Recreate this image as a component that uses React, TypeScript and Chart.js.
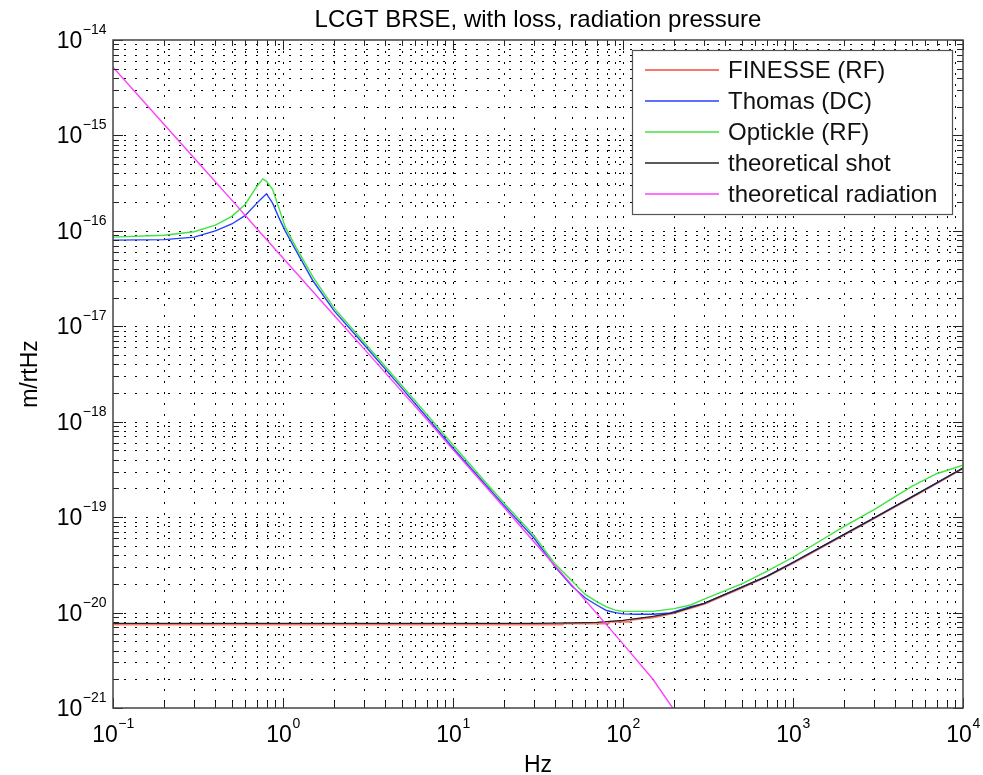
import React, { useEffect, useRef } from 'react';
import { Chart, registerables } from 'chart.js';

Chart.register(...registerables);

const chartTitle = 'LCGT BRSE, with loss, radiation pressure';
const xAxisTitle = 'Hz';
const yAxisTitle = 'm/rtHz';
const xTickExponents = [-1, 0, 1, 2, 3, 4];
const yTickExponents = [-21, -20, -19, -18, -17, -16, -15, -14];
const seriesLabels = ['FINESSE (RF)', 'Thomas (DC)', 'Optickle (RF)', 'theoretical shot', 'theoretical radiation'];
const seriesColors = ['rgb(248,118,106)', 'rgb(36,64,255)', 'rgb(64,228,64)', 'rgb(36,36,36)', 'rgb(255,64,255)'];

const finesseFreq = [0.1, 1, 10, 44, 45, 82, 84, 110, 112, 150, 200, 300, 500, 700, 1000, 2000, 3000, 5000, 7000, 10000];
const finesseVals = [7.5e-21, 7.5e-21, 7.5e-21, 7.5e-21, 7.7e-21, 7.7e-21, 8.0e-21, 8.0e-21, 8.4e-21, 8.9e-21, 9.9e-21, 1.23e-20, 1.82e-20, 2.38e-20, 3.3e-20, 6.5e-20, 9.7e-20, 1.61e-19, 2.26e-19, 3.25e-19];

const thomasFreq = [0.1, 0.2, 0.3, 0.4, 0.5, 0.6, 0.7, 0.75, 0.8, 0.87, 0.95, 1.03, 1.2, 1.5, 2, 3, 5, 7, 10, 15, 20, 30, 40, 50, 60, 70, 80, 90, 100, 120, 150, 190, 250, 300, 500, 700, 1000, 2000, 3000, 5000, 7000, 10000];
const thomasVals = [8.0e-17, 8.1e-17, 8.6e-17, 1.0e-16, 1.18e-16, 1.45e-16, 1.94e-16, 2.2e-16, 2.45e-16, 1.94e-16, 1.35e-16, 1.0e-16, 6.1e-17, 3.0e-17, 1.45e-17, 6.4e-18, 2.25e-18, 1.12e-18, 5.3e-19, 2.35e-19, 1.32e-19, 6.0e-20, 3.0e-20, 1.9e-20, 1.42e-20, 1.2e-20, 1.05e-20, 1.0e-20, 9.7e-21, 9.6e-21, 9.6e-21, 9.9e-21, 1.15e-20, 1.25e-20, 1.85e-20, 2.4e-20, 3.35e-20, 6.6e-20, 9.8e-20, 1.63e-19, 2.28e-19, 3.27e-19];

const optickleFreq = [0.1, 0.2, 0.3, 0.4, 0.5, 0.6, 0.7, 0.76, 0.8, 0.87, 0.95, 1.03, 1.2, 1.5, 2, 3, 5, 7, 10, 15, 20, 30, 40, 50, 60, 70, 80, 90, 100, 150, 200, 250, 300, 500, 700, 1000, 2000, 3000, 5000, 7000, 10000];
const optickleVals = [8.6e-17, 9.0e-17, 9.8e-17, 1.15e-16, 1.42e-16, 1.9e-16, 2.9e-16, 3.5e-16, 3.3e-16, 2.7e-16, 1.7e-16, 1.1e-16, 6.6e-17, 3.3e-17, 1.55e-17, 6.8e-18, 2.4e-18, 1.2e-18, 5.7e-19, 2.5e-19, 1.4e-19, 6.4e-20, 3.2e-20, 2.15e-20, 1.55e-20, 1.3e-20, 1.15e-20, 1.06e-20, 1.03e-20, 1.03e-20, 1.1e-20, 1.2e-20, 1.38e-20, 2.0e-20, 2.7e-20, 3.8e-20, 8.0e-20, 1.2e-19, 2.1e-19, 2.85e-19, 3.5e-19];

const shotFreq = [0.1, 1, 10, 30, 50, 70, 100, 150, 200, 300, 500, 700, 1000, 2000, 3000, 5000, 7000, 10000];
const shotVals = [7.7e-21, 7.7e-21, 7.7e-21, 7.7e-21, 7.8e-21, 7.9e-21, 8.3e-21, 9.1e-21, 1.0e-20, 1.25e-20, 1.85e-20, 2.4e-20, 3.35e-20, 6.6e-20, 9.8e-20, 1.63e-19, 2.28e-19, 3.27e-19];

const radiationFreq = [0.1, 0.2, 0.3, 0.5, 0.7, 1, 2, 3, 5, 7, 10, 20, 30, 50, 70, 100, 150, 200, 300];
const radiationVals = [5.2e-15, 1.3e-15, 5.8e-16, 2.1e-16, 1.06e-16, 5.2e-17, 1.3e-17, 5.8e-18, 2.08e-18, 1.06e-18, 5.1e-19, 1.26e-19, 5.5e-20, 1.95e-20, 9.8e-21, 4.7e-21, 2.0e-21, 9.5e-22, 4.1e-22];

const FONT = '"Liberation Sans", Arial, Helvetica, sans-serif';

function toPoints(xs: number[], ys: number[]) {
  return xs.map((x, i) => ({ x, y: ys[i] }));
}

function drawPow(ctx: CanvasRenderingContext2D, exp: number, x: number, baseline: number, align: 'right' | 'center') {
  const base = '10';
  const expStr = exp < 0 ? '\u2212' + Math.abs(exp) : String(exp);
  ctx.font = `23px ${FONT}`;
  const w1 = ctx.measureText(base).width;
  ctx.font = `14px ${FONT}`;
  const w2 = ctx.measureText(expStr).width;
  const start = align === 'right' ? x - w1 - w2 : x - (w1 + w2) / 2;
  ctx.textAlign = 'left';
  ctx.textBaseline = 'alphabetic';
  ctx.fillStyle = '#000';
  ctx.font = `23px ${FONT}`;
  ctx.fillText(base, start, baseline);
  ctx.font = `14px ${FONT}`;
  ctx.fillText(expStr, start + w1 + 0.5, baseline - 14);
}

const decorPlugin = {
  id: 'decor',
  beforeDatasetsDraw(chart: any) {
    const { ctx, chartArea: a, scales } = chart;
    const xs = scales.x;
    const ys = scales.y;
    ctx.save();
    ctx.beginPath();
    ctx.rect(a.left, a.top, a.right - a.left, a.bottom - a.top);
    ctx.clip();
    ctx.strokeStyle = '#000';
    ctx.lineWidth = 1;
    ctx.setLineDash([2, 9]);
    for (let d = xTickExponents[0]; d < xTickExponents[xTickExponents.length - 1]; d++) {
      for (let m = 1; m <= 9; m++) {
        const px = xs.getPixelForValue(m * Math.pow(10, d));
        if (px <= a.left + 1 || px >= a.right - 1) continue;
        const xx = Math.round(px) + 0.5;
        ctx.beginPath();
        ctx.moveTo(xx, a.top);
        ctx.lineTo(xx, a.bottom);
        ctx.stroke();
      }
    }
    for (let d = yTickExponents[0]; d < yTickExponents[yTickExponents.length - 1]; d++) {
      for (let m = 1; m <= 9; m++) {
        const py = ys.getPixelForValue(m * Math.pow(10, d));
        if (py <= a.top + 1 || py >= a.bottom - 1) continue;
        const yy = Math.round(py) + 0.5;
        ctx.beginPath();
        ctx.moveTo(a.left, yy);
        ctx.lineTo(a.right, yy);
        ctx.stroke();
      }
    }
    ctx.restore();
  },
  afterDatasetsDraw(chart: any) {
    const { ctx, chartArea: a, scales } = chart;
    const xs = scales.x;
    const ys = scales.y;
    ctx.save();
    ctx.setLineDash([]);
    // ticks
    ctx.strokeStyle = '#222';
    ctx.lineWidth = 1;
    for (let d = xTickExponents[0]; d <= xTickExponents[xTickExponents.length - 1]; d++) {
      for (let m = 1; m <= 9; m++) {
        const v = m * Math.pow(10, d);
        if (v > Math.pow(10, xTickExponents[xTickExponents.length - 1])) break;
        const px = xs.getPixelForValue(v);
        const len = m === 1 ? 10 : 6;
        const xx = Math.round(px) + 0.5;
        ctx.beginPath();
        ctx.moveTo(xx, a.bottom);
        ctx.lineTo(xx, a.bottom - len);
        ctx.moveTo(xx, a.top);
        ctx.lineTo(xx, a.top + len);
        ctx.stroke();
      }
    }
    for (let d = yTickExponents[0]; d <= yTickExponents[yTickExponents.length - 1]; d++) {
      for (let m = 1; m <= 9; m++) {
        const v = m * Math.pow(10, d);
        if (v > Math.pow(10, yTickExponents[yTickExponents.length - 1])) break;
        const py = ys.getPixelForValue(v);
        const len = m === 1 ? 10 : 6;
        const yy = Math.round(py) + 0.5;
        ctx.beginPath();
        ctx.moveTo(a.left, yy);
        ctx.lineTo(a.left + len, yy);
        ctx.moveTo(a.right, yy);
        ctx.lineTo(a.right - len, yy);
        ctx.stroke();
      }
    }
    // box
    ctx.strokeStyle = '#444';
    ctx.lineWidth = 1.5;
    ctx.strokeRect(a.left, a.top, a.right - a.left, a.bottom - a.top);
    // tick labels
    for (const e of xTickExponents) {
      const px = xs.getPixelForValue(Math.pow(10, e));
      drawPow(ctx, e, px, a.bottom + 34, 'center');
    }
    for (const e of yTickExponents) {
      const py = ys.getPixelForValue(Math.pow(10, e));
      drawPow(ctx, e, a.left - 7, py + 8, 'right');
    }
    // titles
    ctx.fillStyle = '#000';
    ctx.font = `24px ${FONT}`;
    ctx.textAlign = 'center';
    ctx.textBaseline = 'alphabetic';
    ctx.fillText(chartTitle, (a.left + a.right) / 2, a.top - 13);
    ctx.font = `23px ${FONT}`;
    ctx.fillText(xAxisTitle, (a.left + a.right) / 2, a.bottom + 64);
    ctx.save();
    ctx.translate(37, (a.top + a.bottom) / 2);
    ctx.rotate(-Math.PI / 2);
    ctx.fillText(yAxisTitle, 0, 0);
    ctx.restore();
    // legend
    const lx = 632, ly = 50, lw = 320, lh = 164;
    ctx.fillStyle = '#fff';
    ctx.fillRect(lx, ly, lw, lh);
    ctx.strokeStyle = '#555';
    ctx.lineWidth = 1.2;
    ctx.strokeRect(lx + 0.5, ly + 0.5, lw, lh);
    ctx.font = `24px ${FONT}`;
    ctx.textAlign = 'left';
    ctx.textBaseline = 'middle';
    seriesLabels.forEach((lab, i) => {
      const yy = ly + 20 + i * 31;
      ctx.strokeStyle = seriesColors[i];
      ctx.lineWidth = i === 0 ? 2 : 1.4;
      ctx.beginPath();
      ctx.moveTo(lx + 13, yy);
      ctx.lineTo(lx + 87, yy);
      ctx.stroke();
      ctx.fillStyle = '#111';
      ctx.fillText(lab, lx + 96, yy + 1);
    });
    ctx.restore();
  },
};

export default function App() {
  const canvasRef = useRef<HTMLCanvasElement | null>(null);

  useEffect(() => {
    document.body.style.margin = '0';
    const canvas = canvasRef.current;
    if (!canvas) return;
    const mk = (i: number, xs: number[], ys: number[], order: number, width: number) => ({
      label: seriesLabels[i],
      data: toPoints(xs, ys),
      borderColor: seriesColors[i],
      backgroundColor: seriesColors[i],
      borderWidth: width,
      pointRadius: 0,
      showLine: true,
      tension: 0,
      order,
    });
    const chart = new Chart(canvas, {
      type: 'scatter',
      data: {
        datasets: [
          mk(0, finesseFreq, finesseVals, 5, 2),
          mk(1, thomasFreq, thomasVals, 4, 1.4),
          mk(2, optickleFreq, optickleVals, 3, 1.4),
          mk(3, shotFreq, shotVals, 2, 1.3),
          mk(4, radiationFreq, radiationVals, 1, 1.4),
        ],
      },
      options: {
        animation: false,
        responsive: false,
        maintainAspectRatio: false,
        layout: { padding: { left: 113, right: 20, top: 40, bottom: 67 } },
        plugins: {
          legend: { display: false },
          title: { display: false },
          tooltip: { enabled: false },
        },
        scales: {
          x: {
            type: 'logarithmic',
            min: Math.pow(10, xTickExponents[0]),
            max: Math.pow(10, xTickExponents[xTickExponents.length - 1]),
            display: false,
          },
          y: {
            type: 'logarithmic',
            min: Math.pow(10, yTickExponents[0]),
            max: Math.pow(10, yTickExponents[yTickExponents.length - 1]),
            display: false,
          },
        },
      },
      plugins: [decorPlugin],
    } as any);
    return () => chart.destroy();
  }, []);

  return (
    <div style={{ position: 'absolute', left: 0, top: 0, width: 983, height: 775, background: '#fff' }}>
      <canvas ref={canvasRef} width={983} height={775} style={{ width: 983, height: 775 }} />
    </div>
  );
}
